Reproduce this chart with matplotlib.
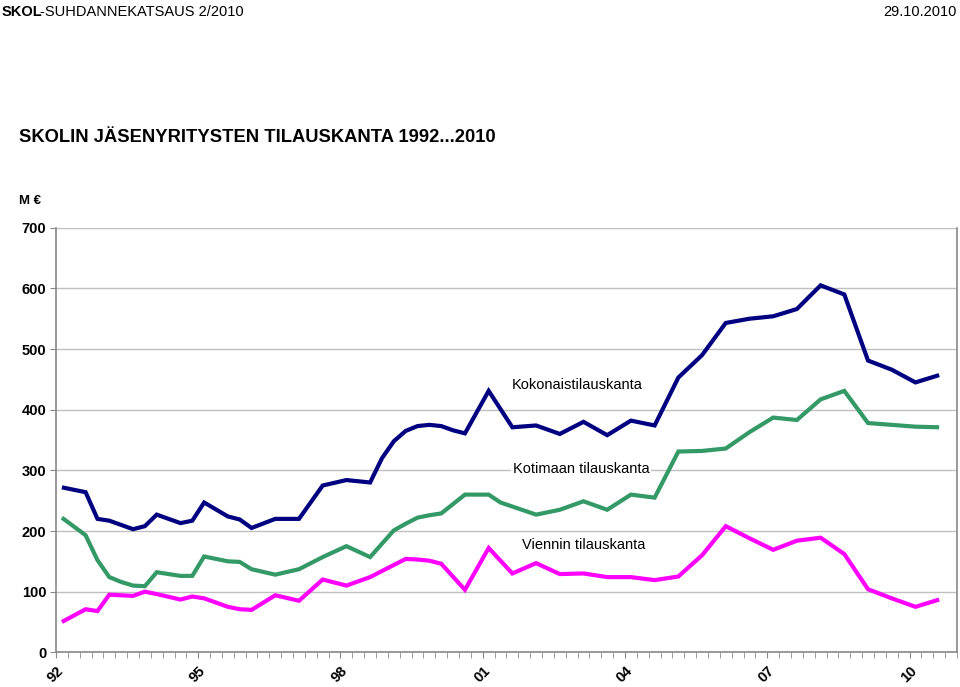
import matplotlib
matplotlib.use("Agg")
import matplotlib.pyplot as plt
import numpy as np
import pandas as pd

plt.rcParams['font.family'] = ['Liberation Sans', 'DejaVu Sans']

# Quarterly index from 1992 Q1 (0) to 2010 Q3 (74); missing keys = no data point
n_quarters = 75
kokonais_pts = {0: 272, 2: 264, 3: 220, 4: 217, 6: 203, 7: 208, 8: 227, 10: 213, 11: 217,
                12: 247, 14: 224, 15: 219, 16: 205, 18: 220, 20: 220, 22: 275, 24: 284,
                26: 280, 27: 320, 28: 348, 29: 365, 30: 373, 31: 375, 32: 373, 33: 366,
                34: 361, 36: 431, 38: 371, 40: 374, 42: 360, 44: 380, 46: 358, 48: 382,
                50: 374, 52: 453, 54: 490, 56: 543, 58: 550, 60: 554, 62: 566, 64: 605,
                66: 590, 68: 481, 70: 466, 72: 445, 74: 457}
kotimaa_pts = {0: 222, 2: 193, 3: 152, 4: 124, 5: 116, 6: 110, 7: 109, 8: 132, 10: 126,
               11: 126, 12: 158, 14: 150, 15: 149, 16: 137, 18: 128, 20: 137, 22: 157,
               24: 175, 26: 157, 28: 201, 29: 212, 30: 222, 31: 226, 32: 229, 34: 260,
               36: 260, 37: 247, 40: 227, 42: 235, 44: 249, 46: 235, 48: 260, 50: 255,
               52: 331, 54: 332, 56: 336, 58: 363, 60: 387, 62: 383, 64: 417, 66: 431,
               68: 378, 70: 375, 72: 372, 74: 371}
vienti_pts = {0: 50, 2: 71, 3: 68, 4: 95, 6: 93, 7: 100, 8: 96, 10: 87, 11: 92, 12: 89,
              14: 75, 15: 71, 16: 70, 18: 94, 20: 85, 22: 120, 24: 110, 26: 124, 29: 154,
              30: 153, 31: 151, 32: 146, 34: 103, 36: 172, 38: 130, 40: 147, 42: 129,
              44: 130, 46: 124, 48: 124, 50: 119, 52: 125, 54: 160, 56: 208, 58: 188,
              60: 169, 62: 184, 64: 189, 66: 162, 68: 104, 70: 89, 72: 75, 74: 87}

year_labels = ["92", "95", "98", "01", "04", "07", "10"]
label_every = 12

series = [
    ("Kokonaistilauskanta", kokonais_pts, "#000080"),
    ("Kotimaan tilauskanta", kotimaa_pts, "#339966"),
    ("Viennin tilauskanta", vienti_pts, "#FF00FF"),
]

fig = plt.figure(figsize=(9.6, 6.87), dpi=100)
ax = fig.add_axes([0.0583, 0.0505, 0.9385, 0.618])

for name, pts, color in series:
    s = pd.Series(pts).reindex(range(n_quarters)).dropna()
    ax.plot(s.index + 0.5, s.values, color=color, lw=3.0, solid_joinstyle='miter',
            solid_capstyle='butt', zorder=3)

n_cats = 76
ax.set_xlim(0, n_cats)
ax.set_ylim(0, 700)
ax.set_yticks(range(0, 701, 100))
ax.set_yticklabels([str(v) for v in range(0, 701, 100)], fontweight='bold', fontsize=10.5)
ax.set_xticks(range(0, n_cats + 1), minor=True)
ax.set_xticks(range(0, label_every * len(year_labels), label_every))
ax.set_xticklabels(year_labels, rotation=45, ha='right', va='top', fontweight='bold',
                   fontsize=10.5, rotation_mode='anchor')
ax.tick_params(axis='x', which='both', length=4, color='#888888', pad=4)
ax.tick_params(axis='y', length=4, color='#888888', pad=3)
ax.grid(axis='y', color='#c0c0c0', lw=1.0, zorder=0)
for side in ['left', 'bottom', 'right']:
    ax.spines[side].set_color('#888888')
    ax.spines[side].set_linewidth(1.2)
ax.spines['top'].set_visible(False)

# line labels
box = dict(facecolor='white', edgecolor='none', pad=1)
ax.text(44.0, 440, "Kokonaistilauskanta", fontsize=10.5, ha='center', va='center', bbox=box, zorder=4)
ax.text(44.3, 302, "Kotimaan tilauskanta", fontsize=10.5, ha='center', va='center', bbox=box, zorder=4)
ax.text(44.5, 177, "Viennin tilauskanta", fontsize=10.5, ha='center', va='center', bbox=box, zorder=4)

# header texts
fig.text(0.002, 0.992, "SKOL", fontsize=10.5, fontweight='bold', ha='left', va='top')
fig.text(0.0415, 0.992, "-SUHDANNEKATSAUS 2/2010", fontsize=10.5, ha='left', va='top')
fig.text(0.997, 0.992, "29.10.2010", fontsize=10.5, ha='right', va='top')
fig.text(0.02, 0.800, "SKOLIN JÄSENYRITYSTEN TILAUSKANTA 1992...2010", fontsize=13.2,
         fontweight='bold', ha='left', va='center')
fig.text(0.02, 0.708, "M €", fontsize=9.5, fontweight='bold', ha='left', va='center')

fig.savefig("out.png", dpi=100, facecolor='white')
